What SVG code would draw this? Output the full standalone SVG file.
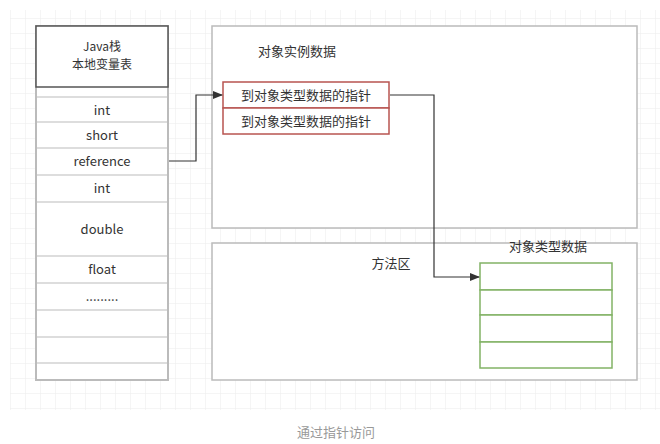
<svg xmlns="http://www.w3.org/2000/svg" width="660" height="444" viewBox="0 0 660 444">
<defs>
<pattern id="grid" x="10" y="3" width="15" height="15" patternUnits="userSpaceOnUse">
<path d="M0 0H15M0 0V15" fill="none" stroke="#ececec" stroke-width="1"/>
</pattern>
<marker id="arr" markerWidth="10" markerHeight="8" refX="9" refY="4" orient="auto" markerUnits="userSpaceOnUse">
<path d="M0 0L10 4L0 8Z" fill="#333"/>
</marker>
<style>
text{font-family:"Noto Sans CJK SC","Liberation Sans",sans-serif;font-size:13px;fill:#333;text-anchor:middle}
.hdr{font-size:12px}
.outer{fill:none;stroke:#bbb;stroke-width:2}
.red{fill:#fff;stroke:#b85450;stroke-width:1.5}
.green{fill:#fff;stroke:#82b366;stroke-width:1.5}
.conn{fill:none;stroke:#333;stroke-width:1.2}
.sep{stroke:#ddd;stroke-width:2}
</style>
</defs>
<rect width="660" height="444" fill="#fff"/>
<rect x="10" y="10" width="650" height="400" fill="url(#grid)"/>

<g id="stack">
<rect x="36" y="87" width="132" height="293" fill="#fff"/>
<line x1="36" y1="97" x2="168" y2="97" class="sep"/>
<line x1="36" y1="122" x2="168" y2="122" class="sep"/>
<line x1="36" y1="148" x2="168" y2="148" class="sep"/>
<line x1="36" y1="175" x2="168" y2="175" class="sep"/>
<line x1="36" y1="202" x2="168" y2="202" class="sep"/>
<line x1="36" y1="256" x2="168" y2="256" class="sep"/>
<line x1="36" y1="283" x2="168" y2="283" class="sep"/>
<line x1="36" y1="310" x2="168" y2="310" class="sep"/>
<line x1="36" y1="337" x2="168" y2="337" class="sep"/>
<line x1="36" y1="363" x2="168" y2="363" class="sep"/>
<rect x="36" y="26" width="132" height="354" class="outer"/>
<rect x="36" y="26" width="132" height="61" fill="#fff" stroke="#555" stroke-width="1.5"/>
<text x="102" y="51" class="hdr">Java栈</text>
<text x="102" y="69" class="hdr">本地变量表</text>
<text x="102" y="115">int</text>
<text x="102" y="140">short</text>
<text x="102" y="166">reference</text>
<text x="102" y="193">int</text>
<text x="102" y="234">double</text>
<text x="102" y="274">float</text>
<text x="102" y="301">.........</text>
</g>

<g id="heap">
<rect x="212" y="26" width="425" height="202" fill="#fff" stroke="#bbb" stroke-width="1.5"/>
<text x="297" y="56">对象实例数据</text>
</g>

<g id="pointers">
<rect x="223" y="82" width="166" height="26" class="red"/>
<rect x="223" y="108" width="166" height="26" class="red"/>
<text x="306" y="100">到对象类型数据的指针</text>
<text x="306" y="126">到对象类型数据的指针</text>
</g>

<g id="method-area">
<rect x="212" y="243" width="425" height="137" fill="#fff" stroke="#bbb" stroke-width="1.5"/>
<text x="391" y="268">方法区</text>
<text x="548" y="251">对象类型数据</text>
</g>

<g id="type-data">
<rect x="480" y="263" width="132" height="27" class="green"/>
<rect x="480" y="290" width="132" height="25" class="green"/>
<rect x="480" y="315" width="132" height="27" class="green"/>
<rect x="480" y="342" width="132" height="26" class="green"/>
</g>

<g id="connectors">
<path d="M169 161H196V95H222" class="conn" marker-end="url(#arr)"/>
<path d="M390 95H434V277H479" class="conn" marker-end="url(#arr)"/>
</g>

<text x="336" y="437" style="fill:#999">通过指针访问</text>
</svg>
